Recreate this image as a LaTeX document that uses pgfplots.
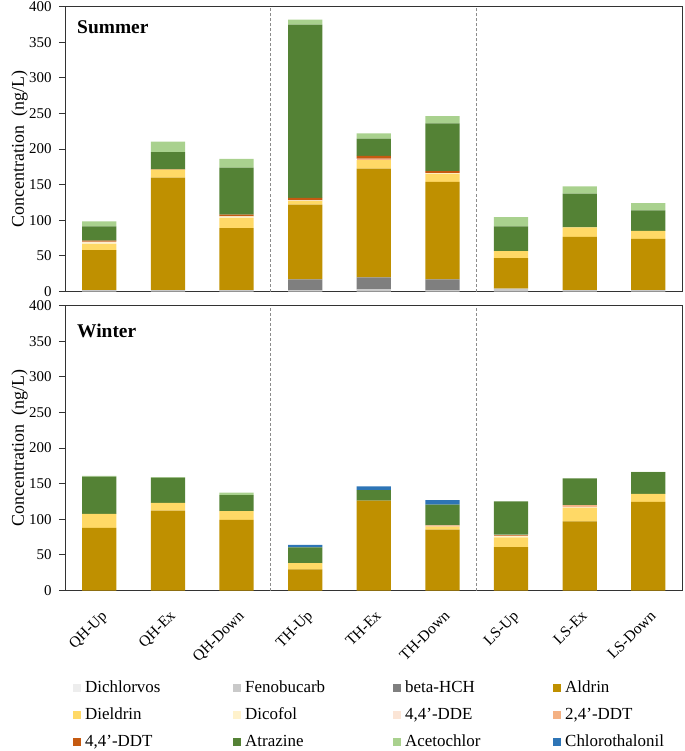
\documentclass[border=0pt]{standalone}
\usepackage{pgfplots}
\pgfplotsset{compat=1.18}
\usepackage{pgfplotstable}
\usepackage{fontspec}
\setmainfont{Liberation Serif}

\definecolor{cDich}{HTML}{EDEDED}
\definecolor{cFeno}{HTML}{C9C9C9}
\definecolor{cHCH}{HTML}{7F7F7F}
\definecolor{cAld}{HTML}{BF9000}
\definecolor{cDiel}{HTML}{FFD966}
\definecolor{cDico}{HTML}{FFF2CC}
\definecolor{cDDE}{HTML}{FBE5D6}
\definecolor{cDDTb}{HTML}{F4B183}
\definecolor{cDDTa}{HTML}{C55A11}
\definecolor{cAtr}{HTML}{548235}
\definecolor{cAce}{HTML}{A9D18E}
\definecolor{cChl}{HTML}{2E75B6}

\pgfplotstableread{
x Dich Feno bHCH Aldrin Diel Dico DDE DDTb DDTa Atr Ace Chl
0 0 2   0    56    9    2 1 0 1.5 20   7   0
1 0 2   0    158   11   0 0 0 0.5 24   15  0
2 0 2   0    87    14.5 2 0 0 2.5 66   12  0
3 0 1.5 15.5 105   5    1 0 0 3.5 243  7   0
4 0 3   17   152.5 12   0 0 2 4   24   7.5 0
5 0 1.5 15.5 137   11   1 0 0 3   67   10  0
6 0 4   0    43    9.5  0 0 0 0   35   13  0
7 0 2   0    74.5  13.5 0 0 0 0   47.5 10  0
8 0 2   0    72    11   0 0 0 0   29   10  0
}\summer

\pgfplotstableread{
x Dich Feno bHCH Aldrin Diel Dico DDE DDTb DDTa Atr Ace Chl
0 0 0 0 88    19.5 0   0 0   0   52.5 1   0
1 0 0 0 112   11   0   0 0   0   35.5 0.5 0
2 0 0 0 99    12.5 0   0 0   0   22.5 3.5 0
3 0 0 0 29.5  9    0   0 0   0   22   0   3.5
4 0 0 0 126   0    0   0 0   0   15   0   5
5 0 0 0 85.5  4    0   0 2   0   29   0   6.5
6 0 0 0 61    13.5 1.5 1 0   1.5 46.5 0   0
7 0 0 0 97    19.5 0   1 2.5 0   37.5 0   0
8 0 0 0 124.5 11   0   0 0   0   30.5 0.5 0
}\winter

\newcommand\LE[1]{\addlegendentry{\makebox[148bp][l]{#1}}}

\pgfplotsset{
  myaxis/.style={
    ybar stacked, bar width=34.3bp,
    scale only axis, width=617.6bp, height=285bp,
    xmin=-0.5, xmax=8.5, ymin=0, ymax=400,
    ytick={0,50,...,400}, xtick={0,...,8},
    axis line style={draw=black!80, line width=0.9pt},
    tick align=outside, ytick pos=left, xtick pos=bottom,
    major tick length=6bp,
    y tick style={draw=black!80, line width=0.8pt},
    x tick style={draw=none},
    ylabel={Concentration\ \ (ng/L)},
    every axis y label/.style={at={(axis description cs:-0.0737,0.5)}, rotate=90, anchor=center,
      font=\fontsize{18}{20}\selectfont},
    y tick label style={font=\fontsize{15}{17}\selectfont, xshift=-4bp},
    /pgf/number format/assume math mode=true,
    legend image code/.code={\fill[##1] (0bp,-4bp) rectangle (8bp,4bp);},
  },
}

\begin{document}
\begin{tikzpicture}
\useasboundingbox (0,0) rectangle (685bp,-751bp);

\begin{axis}[myaxis, at={(65bp,-6.5bp)}, anchor=north west, xticklabels={}]
\addplot[fill=cDich, draw=none] table[x=x, y=Dich] {\summer};
\addplot[fill=cFeno, draw=none] table[x=x, y=Feno] {\summer};
\addplot[fill=cHCH, draw=none] table[x=x, y=bHCH] {\summer};
\addplot[fill=cAld, draw=none] table[x=x, y=Aldrin] {\summer};
\addplot[fill=cDiel, draw=none] table[x=x, y=Diel] {\summer};
\addplot[fill=cDico, draw=none] table[x=x, y=Dico] {\summer};
\addplot[fill=cDDE, draw=none] table[x=x, y=DDE] {\summer};
\addplot[fill=cDDTb, draw=none] table[x=x, y=DDTb] {\summer};
\addplot[fill=cDDTa, draw=none] table[x=x, y=DDTa] {\summer};
\addplot[fill=cAtr, draw=none] table[x=x, y=Atr] {\summer};
\addplot[fill=cAce, draw=none] table[x=x, y=Ace] {\summer};
\addplot[fill=cChl, draw=none] table[x=x, y=Chl] {\summer};
\draw[black!45, line width=0.8pt, dash pattern=on 3bp off 2bp] (axis cs:2.5,0) -- (axis cs:2.5,400);
\draw[black!45, line width=0.8pt, dash pattern=on 3bp off 2bp] (axis cs:5.5,0) -- (axis cs:5.5,400);
\node[anchor=base west, inner sep=0pt, font=\fontsize{19.5}{22}\selectfont\bfseries] at (axis description cs:0.0195,0.907) {Summer};
\end{axis}

\begin{axis}[myaxis, at={(65bp,-305.5bp)}, anchor=north west,
  xticklabels={QH-Up,QH-Ex,QH-Down,TH-Up,TH-Ex,TH-Down,LS-Up,LS-Ex,LS-Down},
  x tick label style={font=\fontsize{15.5}{17}\selectfont, yshift=-8bp, xshift=1bp, rotate=45, anchor=north east},
  legend columns=4,
  legend style={draw=none, fill=none, inner sep=0pt, at={(axis description cs:0.013,-0.312)}, anchor=north west,
    font=\fontsize{17}{19}\selectfont, row sep=11bp,
    nodes={inner sep=0pt, text height=13bp, text depth=3bp},
    /tikz/every odd column/.append style={column sep=4bp}},
]
\addplot[fill=cDich, draw=none] table[x=x, y=Dich] {\winter}; \LE{Dichlorvos}
\addplot[fill=cFeno, draw=none] table[x=x, y=Feno] {\winter}; \LE{Fenobucarb}
\addplot[fill=cHCH, draw=none] table[x=x, y=bHCH] {\winter}; \LE{beta-HCH}
\addplot[fill=cAld, draw=none] table[x=x, y=Aldrin] {\winter}; \LE{Aldrin}
\addplot[fill=cDiel, draw=none] table[x=x, y=Diel] {\winter}; \LE{Dieldrin}
\addplot[fill=cDico, draw=none] table[x=x, y=Dico] {\winter}; \LE{Dicofol}
\addplot[fill=cDDE, draw=none] table[x=x, y=DDE] {\winter}; \LE{4,4'-DDE}
\addplot[fill=cDDTb, draw=none] table[x=x, y=DDTb] {\winter}; \LE{2,4'-DDT}
\addplot[fill=cDDTa, draw=none] table[x=x, y=DDTa] {\winter}; \LE{4,4'-DDT}
\addplot[fill=cAtr, draw=none] table[x=x, y=Atr] {\winter}; \LE{Atrazine}
\addplot[fill=cAce, draw=none] table[x=x, y=Ace] {\winter}; \LE{Acetochlor}
\addplot[fill=cChl, draw=none] table[x=x, y=Chl] {\winter}; \LE{Chlorothalonil}
\draw[black!45, line width=0.8pt, dash pattern=on 3bp off 2bp] (axis cs:2.5,0) -- (axis cs:2.5,400);
\draw[black!45, line width=0.8pt, dash pattern=on 3bp off 2bp] (axis cs:5.5,0) -- (axis cs:5.5,400);
\node[anchor=base west, inner sep=0pt, font=\fontsize{19.5}{22}\selectfont\bfseries] at (axis description cs:0.0195,0.889) {Winter};
\end{axis}
\end{tikzpicture}
\end{document}
